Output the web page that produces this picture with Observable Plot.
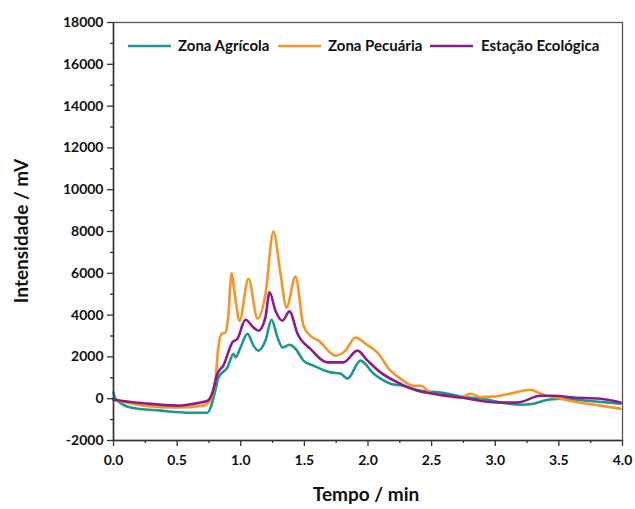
<!DOCTYPE html>
<html>
<head>
<meta charset="utf-8">
<script src="https://cdn.jsdelivr.net/npm/d3@7"></script>
<script src="https://cdn.jsdelivr.net/npm/@observablehq/plot@0.6"></script>
<style>
  html, body { margin: 0; padding: 0; background: #fff; }
  #chart { width: 635px; height: 509px; }
</style>
</head>
<body>
<div id="chart"></div>
<script>
const seriesNames = ["Zona Agrícola", "Zona Pecuária", "Estação Ecológica"];
const seriesColors = ["#1c9792", "#f4962a", "#8a1c8c"];

const agricolaT = [0, 0.016, 0.134, 0.369, 0.605, 0.739, 0.77, 0.80, 0.825, 0.896, 0.943, 0.959, 0.998, 1.053, 1.100, 1.139, 1.194, 1.242, 1.289, 1.328, 1.383, 1.430, 1.493, 1.572, 1.705, 1.784, 1.839, 1.941, 2.043, 2.177, 2.27, 2.413, 2.570, 2.782, 2.908, 3.041, 3.198, 3.301, 3.411, 3.536, 3.725, 3.882, 3.984];
const agricolaV = [300, 0, -420, -570, -670, -670, -300, 400, 1020, 1500, 2150, 1980, 2450, 3110, 2540, 2300, 2780, 3780, 2930, 2450, 2580, 2390, 1820, 1580, 1260, 1200, 960, 1820, 1200, 720, 620, 380, 300, 60, 0, -180, -290, -240, -50, 0, -100, -180, -240];

const pecuariaT = [0, 0.236, 0.503, 0.707, 0.762, 0.802, 0.825, 0.849, 0.880, 0.904, 0.927, 0.955, 0.990, 1.061, 1.132, 1.194, 1.257, 1.312, 1.360, 1.430, 1.493, 1.548, 1.611, 1.745, 1.823, 1.902, 1.980, 2.075, 2.177, 2.255, 2.358, 2.413, 2.491, 2.593, 2.727, 2.806, 2.884, 2.986, 3.120, 3.277, 3.356, 3.513, 3.670, 3.827, 3.984];
const pecuariaV = [-50, -330, -420, -330, -50, 1000, 2500, 3100, 3170, 4070, 6000, 4900, 3730, 5740, 3830, 5000, 8000, 6000, 4370, 5840, 3500, 3010, 2780, 2060, 2300, 2930, 2630, 2200, 1340, 960, 620, 620, 290, 140, 50, 240, 80, 100, 250, 430, 240, 0, -190, -330, -480];

const estacaoT = [0, 0.236, 0.503, 0.684, 0.739, 0.778, 0.817, 0.864, 0.935, 0.974, 1.037, 1.100, 1.139, 1.194, 1.226, 1.273, 1.328, 1.383, 1.446, 1.548, 1.682, 1.807, 1.917, 1.996, 2.098, 2.232, 2.389, 2.515, 2.727, 3.018, 3.175, 3.356, 3.458, 3.615, 3.827, 3.984];
const estacaoV = [-50, -220, -330, -180, -100, 300, 1200, 1600, 2700, 2870, 3780, 3410, 3250, 3890, 5090, 4210, 3730, 4180, 3110, 2380, 1740, 1740, 2300, 1820, 1260, 780, 380, 240, 60, -180, -180, 140, 140, 60, 0, -180];

const xMajorTicks = [0, 0.5, 1.0, 1.5, 2.0, 2.5, 3.0, 3.5, 4.0];
const xMinorTicks = [0.25, 0.75, 1.25, 1.75, 2.25, 2.75, 3.25, 3.75];
const yMajorTicks = [-2000, 0, 2000, 4000, 6000, 8000, 10000, 12000, 14000, 16000, 18000];
const yMinorTicks = [-1000, 1000, 3000, 5000, 7000, 9000, 11000, 13000, 15000, 17000];

const tSeries = [agricolaT, pecuariaT, estacaoT];
const vSeries = [agricolaV, pecuariaV, estacaoV];
const rows = [];
seriesNames.forEach((name, i) => {
  tSeries[i].forEach((t, j) => rows.push({series: name, t, v: vSeries[i][j]}));
});

const font = "Lato, 'Open Sans', sans-serif";
const axisColor = "#333";

const plot = Plot.plot({
  width: 635,
  height: 509,
  marginLeft: 113,
  marginRight: 13,
  marginTop: 22,
  marginBottom: 69,
  style: {fontFamily: font, fontSize: "14px", fontWeight: "bold", color: "#111", background: "#fff"},
  x: {domain: [0, 4]},
  y: {domain: [-2000, 18000]},
  color: {domain: seriesNames, range: seriesColors},
  marks: [
    Plot.frame({stroke: "#555", strokeWidth: 1.3}),
    Plot.line(rows, {x: "t", y: "v", z: "series", stroke: "series", strokeWidth: 2.6, curve: "monotone-x"}),
    Plot.axisX({ticks: xMajorTicks, tickFormat: d3.format(".1f"), tickSize: 6, tickPadding: 9, label: null, stroke: axisColor, strokeWidth: 1.3, fontSize: 14, fontWeight: "bold"}),
    Plot.axisX({ticks: xMinorTicks, tickFormat: () => "", tickSize: 3, label: null, stroke: axisColor, strokeWidth: 1.3}),
    Plot.axisY({ticks: yMajorTicks, tickFormat: d => String(d), tickSize: 6, tickPadding: 4, label: null, stroke: axisColor, strokeWidth: 1.3, fontSize: 14, fontWeight: "bold"}),
    Plot.axisY({ticks: yMinorTicks, tickFormat: () => "", tickSize: 3, label: null, stroke: axisColor, strokeWidth: 1.3}),
    Plot.ruleY([-2000], {stroke: axisColor, strokeWidth: 1.5}),
    Plot.ruleX([0], {stroke: axisColor, strokeWidth: 1.5})
  ]
});

const svg = d3.select(plot);
// axis titles
svg.append("text")
  .attr("x", 366).attr("y", 501)
  .attr("text-anchor", "middle")
  .attr("font-family", font).attr("font-weight", "bold").attr("font-size", 19)
  .attr("fill", "#111")
  .text("Tempo / min");
svg.append("text")
  .attr("transform", "translate(28,231) rotate(-90)")
  .attr("text-anchor", "middle")
  .attr("font-family", font).attr("font-weight", "bold").attr("font-size", 19)
  .attr("fill", "#111")
  .text("Intensidade / mV");

// legend
const legendItems = [
  {lx: 128, tx: 178},
  {lx: 278, tx: 328},
  {lx: 430, tx: 481}
];
const lg = svg.append("g").attr("font-family", font).attr("font-weight", "bold").attr("font-size", 15).attr("text-anchor", "start");
legendItems.forEach((it, i) => {
  lg.append("line").attr("x1", it.lx).attr("x2", it.lx + 43).attr("y1", 46).attr("y2", 46)
    .attr("stroke", seriesColors[i]).attr("stroke-width", 2.6);
  lg.append("text").attr("x", it.tx).attr("y", 51).attr("fill", "#111").attr("text-anchor", "start").text(seriesNames[i]);
});

document.getElementById("chart").appendChild(plot);
</script>
</body>
</html>
